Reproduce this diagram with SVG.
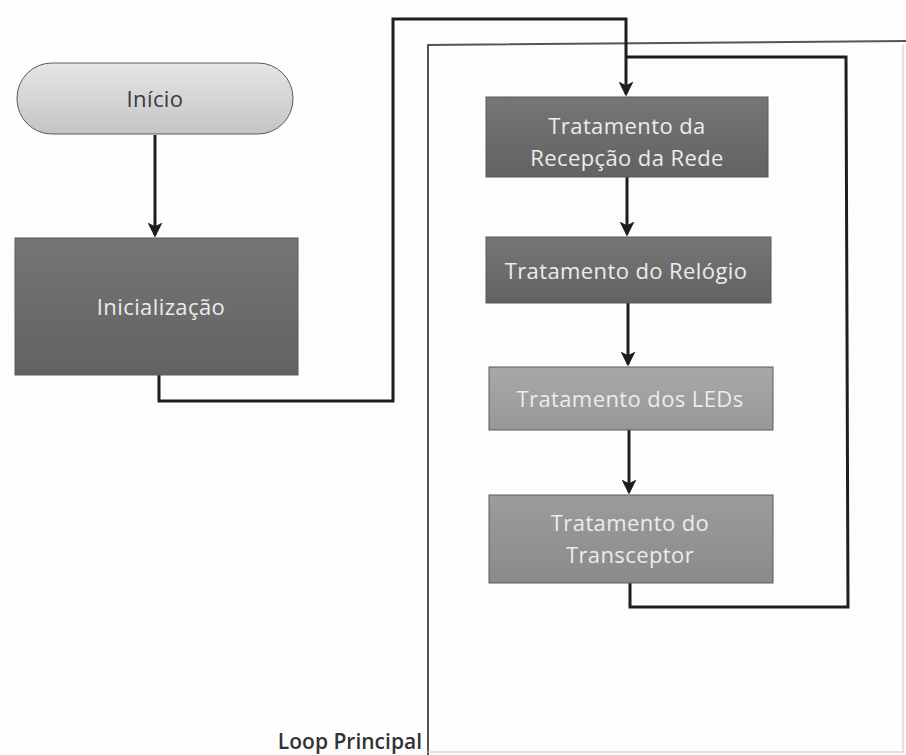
<svg xmlns="http://www.w3.org/2000/svg" width="906" height="755" viewBox="0 0 906 755">
<style>
.lbl{font-family:"Open Sans","Liberation Sans",sans-serif;font-size:22px;letter-spacing:0.4px;text-anchor:middle;fill:#ececec}
.dark{fill:#3a3a3a}
.con{fill:none;stroke:#1e1e1e;stroke-width:3}
.frame{fill:none;stroke:#555;stroke-width:2}
.box{stroke:#5a5a5a;stroke-width:1}
</style>
<defs>
<marker id="ah" viewBox="0 0 12 12" refX="10" refY="6" markerWidth="5" markerHeight="5" orient="auto" markerUnits="strokeWidth">
<path d="M0,0 L12,6 L0,12 L3,6 Z" fill="#1e1e1e"/>
</marker>
<linearGradient id="gStart" x1="0" y1="0" x2="0" y2="1">
<stop offset="0" stop-color="#e6e6e6"/><stop offset="1" stop-color="#c4c4c4"/>
</linearGradient>
<linearGradient id="gDark" x1="0" y1="0" x2="0" y2="1">
<stop offset="0" stop-color="#767676"/><stop offset="1" stop-color="#626262"/>
</linearGradient>
<linearGradient id="gMid" x1="0" y1="0" x2="0" y2="1">
<stop offset="0" stop-color="#9c9c9c"/><stop offset="1" stop-color="#8a8a8a"/>
</linearGradient>
<linearGradient id="gLight" x1="0" y1="0" x2="0" y2="1">
<stop offset="0" stop-color="#a8a8a8"/><stop offset="1" stop-color="#989898"/>
</linearGradient>
</defs>
<rect width="906" height="755" fill="#fdfdfd"/>
<g id="loop-frame">
<path class="frame" d="M428,755 L428,45 L906,41"/>
<path d="M903,45 L903,752 L428,752" fill="none" stroke="#d8d8d8" stroke-width="1.5"/>
<text x="422" y="749" text-anchor="end" style="font-family:'Open Sans','Liberation Sans',sans-serif;font-size:21px;font-weight:600;fill:#333">Loop Principal</text>
</g>
<g id="connectors">
<path class="con" d="M155,135 L155,235" marker-end="url(#ah)"/>
<path class="con" d="M159,375 L159,401 L393,401 L393,19 L626,19 L626,94" marker-end="url(#ah)"/>
<path class="con" d="M627,177 L627,234" marker-end="url(#ah)"/>
<path class="con" d="M628,303 L628,364" marker-end="url(#ah)"/>
<path class="con" d="M629,430 L629,492" marker-end="url(#ah)"/>
<path class="con" d="M630,583 L630,607 L848,607 L846,57 L626,57"/>
</g>
<g id="inicio">
<rect class="box" x="17" y="63" width="276" height="71" rx="35" fill="url(#gStart)"/>
<text class="lbl dark" x="155" y="107">Início</text>
</g>
<g id="inicializacao">
<rect class="box" x="15" y="238" width="283" height="137" fill="url(#gDark)"/>
<text class="lbl" x="161" y="315">Inicialização</text>
</g>
<g id="recepcao">
<rect class="box" x="486" y="97" width="282" height="80" fill="url(#gDark)"/>
<text class="lbl" x="627" y="134">Tratamento da</text>
<text class="lbl" x="627" y="166">Recepção da Rede</text>
</g>
<g id="relogio">
<rect class="box" x="486" y="237" width="285" height="66" fill="url(#gDark)"/>
<text class="lbl" x="626" y="279">Tratamento do Relógio</text>
</g>
<g id="leds">
<rect class="box" x="489" y="367" width="284" height="63" fill="url(#gLight)"/>
<text class="lbl" x="630" y="407">Tratamento dos LEDs</text>
</g>
<g id="transceptor">
<rect class="box" x="489" y="495" width="284" height="88" fill="url(#gMid)"/>
<text class="lbl" x="630" y="531">Tratamento do</text>
<text class="lbl" x="630" y="563">Transceptor</text>
</g>
</svg>
